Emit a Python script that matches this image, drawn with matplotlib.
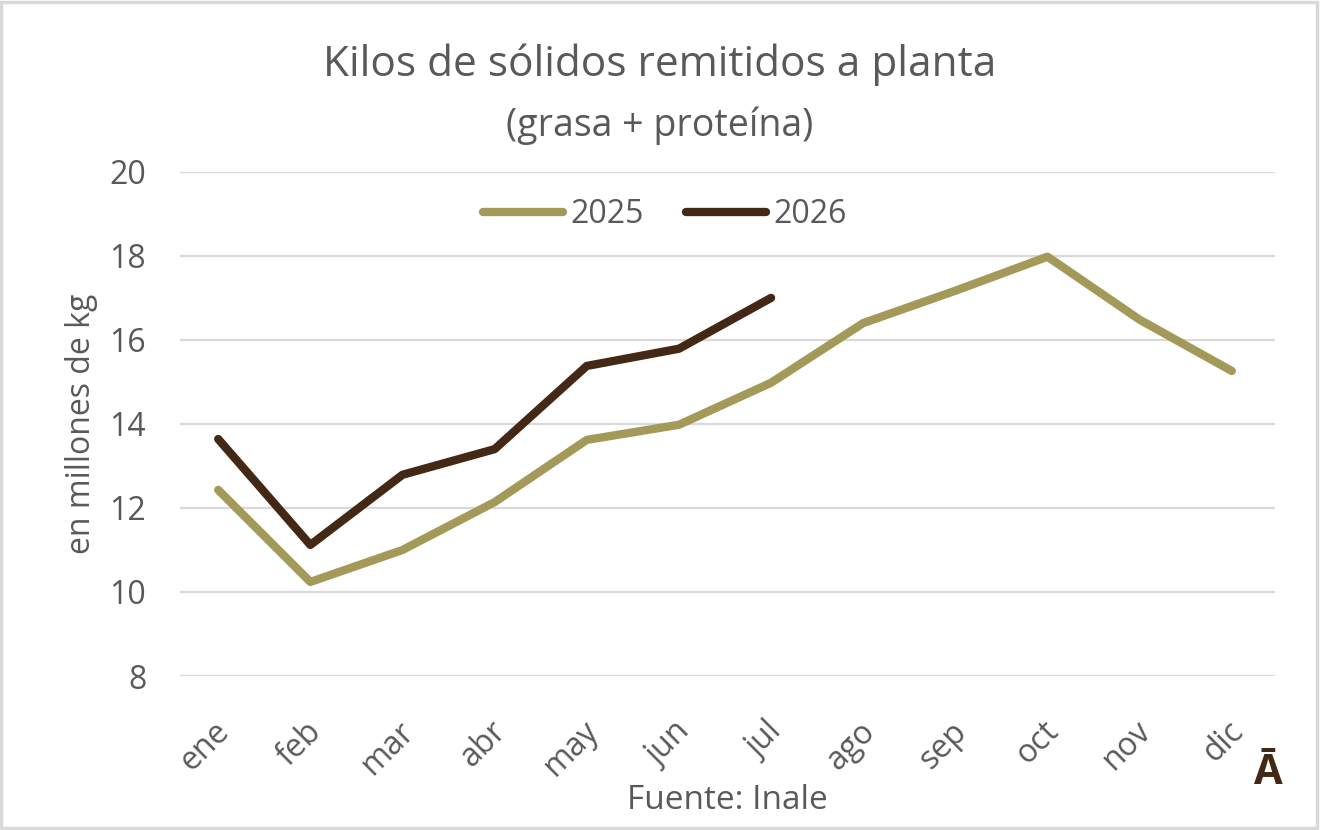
import matplotlib
matplotlib.use("Agg")
import matplotlib.pyplot as plt
from matplotlib.patches import Rectangle
from matplotlib.transforms import ScaledTranslation

plt.rcParams['font.family'] = ['Open Sans', 'DejaVu Sans']

meses = ["ene", "feb", "mar", "abr", "may", "jun", "jul", "ago", "sep", "oct", "nov", "dic"]
kilos_2025 = [12.43, 10.24, 11.0, 12.14, 13.62, 13.98, 14.98, 16.4, 17.17, 17.98, 16.48, 15.26]
kilos_2026 = [13.64, 11.12, 12.79, 13.40, 15.38, 15.79, 17.0]

gris_texto = "#595959"
verde = "#a39a5a"
marron = "#432816"

fig = plt.figure(figsize=(13.2, 8.3), dpi=100)
ax = fig.add_axes([0.136, 0.1855, 0.83, 0.6075])

x25 = list(range(len(kilos_2025)))
x26 = list(range(len(kilos_2026)))
ax.plot(x25, kilos_2025, color=verde, lw=6, solid_capstyle='round', solid_joinstyle='round', label="2025")
ax.plot(x26, kilos_2026, color=marron, lw=6, solid_capstyle='round', solid_joinstyle='round', label="2026")

ax.set_ylim(8, 20)
ax.set_yticks([8, 10, 12, 14, 16, 18, 20])
ax.set_xlim(-0.42, 11.47)
ax.set_xticks(x25)
ax.set_xticklabels(meses, rotation=45, ha='right', va='top', rotation_mode='anchor')
ax.grid(axis='y', color='#d9d9d9', lw=1.6)
ax.set_axisbelow(True)
for s in ax.spines.values():
    s.set_visible(False)
ax.tick_params(axis='both', length=0, labelsize=23, colors=gris_texto)
ax.tick_params(axis='y', pad=24)
ax.tick_params(axis='x', pad=28)
desplazar = ScaledTranslation(-5 / 100, 0, fig.dpi_scale_trans)
for lab in ax.get_xticklabels():
    lab.set_transform(lab.get_transform() + desplazar)
ax.set_ylabel("en millones de kg", fontsize=23, color=gris_texto, labelpad=8)

leg = ax.legend(loc='upper center', bbox_to_anchor=(0.443, 1.005), ncol=2, frameon=False,
                fontsize=23, handlelength=2.5, handletextpad=0.22, columnspacing=1.35)
for t in leg.get_texts():
    t.set_color(gris_texto)

fig.text(0.5, 0.922, "Kilos de sólidos remitidos a planta", ha='center', va='center',
         fontsize=30.5, color=gris_texto)
fig.text(0.5, 0.849, "(grasa + proteína)", ha='center', va='center',
         fontsize=27, color=gris_texto)
fig.text(0.551, 0.036, "Fuente: Inale", ha='center', va='center', fontsize=24, color=gris_texto)
fig.text(0.96, 0.068, "Ā", ha='center', va='center', fontsize=30, fontweight='bold', color=marron)

fig.patches.append(Rectangle((0.001, 0.002), 0.997, 0.996, transform=fig.transFigure,
                             fill=False, edgecolor='#d9d9d9', lw=2.5))

fig.savefig("out.png", dpi=100, facecolor='white')
